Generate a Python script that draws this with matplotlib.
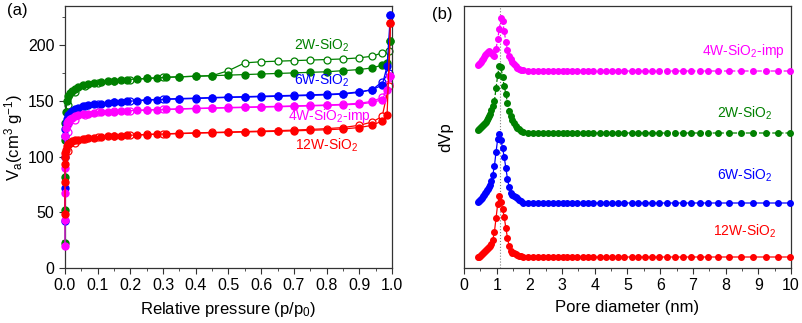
import matplotlib
matplotlib.use('Agg')
import matplotlib.pyplot as plt

plt.rcParams['font.family'] = ['Liberation Sans', 'DejaVu Sans']
plt.rcParams['mathtext.fontset'] = 'custom'
plt.rcParams['mathtext.rm'] = 'Liberation Sans'
plt.rcParams['mathtext.it'] = 'Liberation Sans'

# (a) N2 isotherms
p_ads = [0.00001, 0.00003, 0.0001, 0.0003, 0.001, 0.003, 0.006, 0.01, 0.015, 0.02,
         0.03, 0.04, 0.055, 0.07, 0.09, 0.11, 0.13, 0.15, 0.17, 0.19,
         0.22, 0.25, 0.28, 0.31, 0.35, 0.4, 0.45, 0.5, 0.55, 0.6,
         0.65, 0.7, 0.75, 0.8, 0.85, 0.9, 0.94, 0.97, 0.985, 0.995]
p_des = [0.995, 0.99, 0.97, 0.94, 0.9, 0.85, 0.8, 0.75, 0.7, 0.65, 0.6, 0.55,
         0.5, 0.45, 0.4, 0.35, 0.3, 0.25, 0.2, 0.15, 0.1, 0.06, 0.03, 0.01]

ads_2w = [22, 52, 82, 115, 130, 140, 150, 154, 157, 159,
          161, 162.5, 164, 165, 166, 167, 167.5, 168, 168.5, 169,
          169.5, 170, 170.5, 171, 171.5, 172, 172.5, 173, 173.5, 174,
          174.5, 175, 175.5, 176, 177, 178, 179.5, 182, 184, 204]
des_2w = [204, 195, 193, 190, 188.5, 187.5, 187, 186.5, 186, 185.5, 185, 184,
          177, 172.5, 172, 171.5, 171, 170, 169, 168, 166, 163, 158, 146]

ads_6w = [42, 72, 100, 118, 125, 130, 134, 137, 139, 141,
          142.5, 143.5, 145, 146, 147, 147.5, 148, 148.5, 149, 149.5,
          150, 150.5, 151, 151.3, 151.6, 152, 152.5, 153, 153.3, 153.6,
          154, 154.4, 154.8, 155.3, 156, 157.5, 160, 164, 181, 227]
des_6w = [227, 175, 167, 160, 158, 156.5, 155.8, 155.3, 154.9, 154.5, 154.1, 153.7,
          153.3, 152.9, 152.4, 152, 151.5, 150.8, 150, 149, 147.5, 145, 141, 130]

ads_4w = [20, 43, 67, 90, 118, 126, 130, 132, 133.5, 134.5,
          136, 137, 138, 138.5, 139, 139.5, 140, 140.3, 140.6, 141,
          141.3, 141.6, 142, 142.2, 142.5, 143, 143.3, 143.6, 144, 144.3,
          144.6, 145, 145.4, 145.8, 146.3, 147, 148.5, 151, 160, 172]
des_4w = [172, 165, 153, 149.5, 147.8, 146.8, 146.2, 145.8, 145.4, 145, 144.7, 144.3,
          144, 143.6, 143.2, 142.8, 142.3, 141.8, 141.2, 140.5, 139.5, 137.5, 133, 122]

ads_12w = [48, 77, 93, 100, 103, 106, 109, 111, 112.5, 113.5,
           114.5, 115, 116, 116.5, 117, 117.5, 118, 118.3, 118.6, 119,
           119.3, 119.6, 120, 120.2, 120.5, 121, 121.3, 121.6, 122, 122.3,
           122.6, 123, 123.5, 124, 124.7, 126, 128, 132, 137, 220]
des_12w = [220, 163, 136, 131, 128, 126, 125, 124.3, 123.7, 123.2, 122.8, 122.4,
           122, 121.6, 121.2, 120.8, 120.3, 119.8, 119.2, 118.5, 117.5, 115.5, 112, 105]

# (b) pore size distribution
d_pore = [0.44, 0.47, 0.50, 0.53, 0.56, 0.59, 0.62, 0.65, 0.68, 0.71, 0.74, 0.77, 0.80,
          0.84, 0.88, 0.93, 0.98, 1.03, 1.08, 1.13, 1.18, 1.23, 1.28, 1.33, 1.38,
          1.43, 1.48, 1.53, 1.58, 1.63, 1.68, 1.73,
          1.81, 1.97, 2.12, 2.27, 2.41, 2.56, 2.71, 2.86, 3.02, 3.14, 3.29, 3.45,
          3.63, 3.80, 3.95, 4.16, 4.33, 4.52, 4.72, 4.90, 5.13, 5.31, 5.53, 5.76,
          5.97, 6.20, 6.45, 6.71, 6.94, 7.22, 7.47, 7.78, 8.11, 8.46, 8.85, 9.23,
          9.59, 9.97]

dv_4w = [6, 7, 8, 9, 11, 12, 14, 16, 17, 18.5, 19.5, 20, 19.5,
         18, 16, 15, 22, 32, 42, 53, 50, 40, 29, 21, 15,
         12, 9, 7, 5, 3.5, 2.5, 1.5,
         1, 0.5, 0.3, 0.2, 0.1, 0, 0, 0, 0, 0, 0, 0,
         0, 0, 0, 0, 0, 0, 0, 0, 0, 0, 0, 0,
         0, 0, 0, 0, 0, 0, 0, 0, 0, 0, 0, 0,
         0, 0]
dv_2w = [3, 4, 5, 6, 7, 8, 9, 10, 11.5, 13, 15, 17, 19.5,
         23, 27, 32, 45, 58, 67, 66, 56, 47, 39, 30, 22,
         17, 13, 10, 7.5, 5.5, 4, 2.5,
         1, 0.5, 0.3, 0.2, 0.1, 0, 0, 0, 0, 0, 0, 0,
         0, 0, 0, 0, 0, 0, 0, 0, 0, 0, 0, 0,
         0, 0, 0, 0, 0, 0, 0, 0, 0, 0, 0, 0,
         0, 0]
dv_6w = [1.5, 2.5, 3.5, 4.5, 5.5, 7, 8.5, 10, 11.5, 13, 14.5, 16.5, 18.5,
         22, 28, 37, 51, 64, 69, 63, 55, 46, 35, 24, 16,
         10, 8, 7, 6, 5, 3.5, 2,
         0.5, 0.3, 0.2, 0.1, 0, 0, 0, 0, 0, 0, 0, 0,
         0, 0, 0, 0, 0, 0, 0, 0, 0, 0, 0, 0,
         0, 0, 0, 0, 0, 0, 0, 0, 0, 0, 0, 0,
         0, 0]
dv_12w = [0, 0.5, 1, 2, 3, 4, 5.5, 6.5, 7.5, 8, 9, 10, 11.5,
          13.5, 17, 25, 39, 53, 61, 55, 48, 40, 29, 19, 11,
          6, 4.5, 4, 3.5, 2.5, 1.5, 1,
          0.3, 0.2, 0.1, 0, 0, 0, 0, 0, 0, 0, 0, 0,
          0, 0, 0, 0, 0, 0, 0, 0, 0, 0, 0, 0,
          0, 0, 0, 0, 0, 0, 0, 0, 0, 0, 0, 0,
          0, 0]
offsets = [197, 135, 65, 11]

green = '#008000'
blue = '#0000FF'
magenta = '#FF00FF'
red = '#FF0000'

fig = plt.figure(figsize=(8.03, 3.23), dpi=100)
ax1 = fig.add_axes([65/803, 55/323, 327/803, 262/323])
ax2 = fig.add_axes([464/803, 55/323, 327/803, 262/323])

for ads, des, c in [(ads_2w, des_2w, green), (ads_6w, des_6w, blue),
                    (ads_4w, des_4w, magenta), (ads_12w, des_12w, red)]:
    ax1.plot(p_ads, ads, '-o', color=c, lw=0.9, ms=5, mfc=c, mec=c, clip_on=False, zorder=3)
    ax1.plot(p_des, des, '-o', color=c, lw=0.9, ms=5, mfc='white', mec=c, mew=0.9,
             clip_on=False, zorder=2)

ax1.set_xlim(0, 1.0)
ax1.set_ylim(0, 235)
ax1.set_xticks([0.0, 0.1, 0.2, 0.3, 0.4, 0.5, 0.6, 0.7, 0.8, 0.9, 1.0])
ax1.set_xticks([0.05, 0.15, 0.25, 0.35, 0.45, 0.55, 0.65, 0.75, 0.85, 0.95], minor=True)
ax1.set_yticks([0, 50, 100, 150, 200])
ax1.set_yticks([25, 75, 125, 175, 225], minor=True)
ax1.set_xlabel('Relative pressure (p/p$_0$)', fontsize=12, labelpad=5)
ax1.set_ylabel('V$_a$(cm$^3$ g$^{-1}$)', fontsize=12, labelpad=2)

ax1.text(0.785, 200, '2W-SiO$_2$', color=green, fontsize=10, ha='center', va='center')
ax1.text(0.785, 168, '6W-SiO$_2$', color=blue, fontsize=10, ha='center', va='center')
ax1.text(0.81, 136, '4W-SiO$_2$-imp', color=magenta, fontsize=10, ha='center', va='center')
ax1.text(0.8, 110, '12W-SiO$_2$', color=red, fontsize=10, ha='center', va='center')

styles = [(dv_4w, magenta, '--'), (dv_2w, green, '--'), (dv_6w, blue, '-'), (dv_12w, red, '-')]
for (dv, c, ls), off in zip(styles, offsets):
    ax2.plot(d_pore, [v + off for v in dv], ls, marker='o', color=c, lw=0.9, ms=4,
             clip_on=False, zorder=3)

ax2.axvline(1.1, color='gray', ls=':', lw=0.8, zorder=1)
ax2.set_xlim(0, 10)
ax2.set_ylim(0, 262)
ax2.set_xticks(range(0, 11))
ax2.set_xticks([0.5, 1.5, 2.5, 3.5, 4.5, 5.5, 6.5, 7.5, 8.5, 9.5], minor=True)
ax2.set_yticks([])
ax2.set_xlabel('Pore diameter (nm)', fontsize=12, labelpad=5)
ax2.set_ylabel('dVp', fontsize=12, labelpad=8)

ax2.text(9.8, 217, '4W-SiO$_2$-imp', color=magenta, fontsize=10, ha='right', va='center')
ax2.text(9.45, 155, '2W-SiO$_2$', color=green, fontsize=10, ha='right', va='center')
ax2.text(9.45, 93, '6W-SiO$_2$', color=blue, fontsize=10, ha='right', va='center')
ax2.text(9.55, 37, '12W-SiO$_2$', color=red, fontsize=10, ha='right', va='center')

for ax in (ax1, ax2):
    for s in ax.spines.values():
        s.set_color('#333333')
        s.set_linewidth(0.9)
    ax.tick_params(which='both', direction='out', top=False, right=False,
                   labelsize=11.5, color='#333333')
    ax.tick_params(which='major', length=4)
    ax.tick_params(which='minor', length=2.5)

fig.text(7/803, 1 - 11/323, '(a)', fontsize=12, va='center', ha='left')
fig.text(432/803, 1 - 15/323, '(b)', fontsize=12, va='center', ha='left')

fig.savefig('out.png', dpi=100)
